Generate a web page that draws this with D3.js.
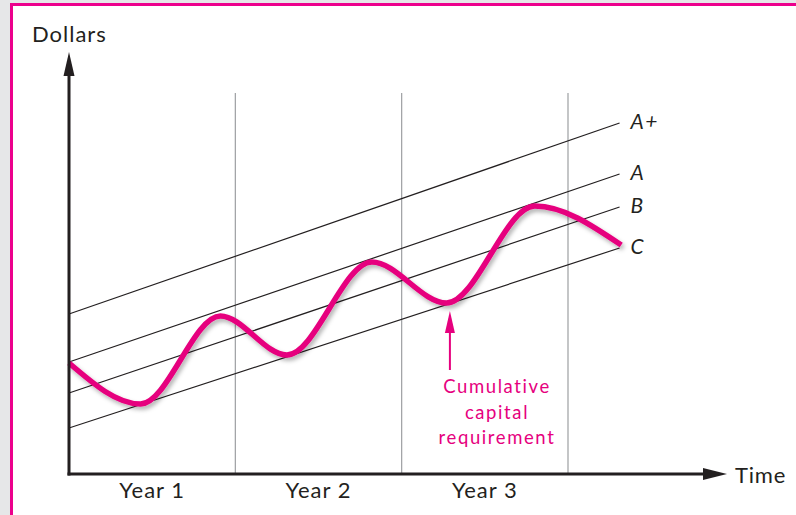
<!DOCTYPE html>
<html>
<head>
<meta charset="utf-8">
<script src="https://cdn.jsdelivr.net/npm/d3@7"></script>
<style>
  html, body { margin: 0; padding: 0; background: #e6e7e8; }
  svg { display: block; }
  text { font-family: Lato, "Noto Sans", sans-serif; fill: #231f20; }
</style>
</head>
<body>
<svg id="chart" width="796" height="515"></svg>
<script>
// ---- data ----
const yearLabels = ["Year 1", "Year 2", "Year 3"];
const yearDividers = [1, 2, 3];
const lineNames = ["A+", "A", "B", "C"];
const lineStart = [40, 28, 20.25, 11.5];   // value at time 0
const lineEnd = [87.75, 75, 66.75, 56.5];  // value at time 3.31
const lineEndTime = 3.31;
const curveTimes = [0, 0.43, 0.91, 1.31, 1.82, 2.27, 2.80, 3.32];
const curveValues = [27.75, 17.5, 39.5, 29.75, 53, 42.75, 67, 57.25];
const annotationTime = 2.29;
const annotationLines = ["Cumulative", "capital", "requirement"];

// ---- layout ----
const svg = d3.select("#chart");
const W = 796, H = 515;
const x = d3.scaleLinear().domain([0, 3]).range([69, 568]);
const y = d3.scaleLinear().domain([0, 100]).range([474, 74]);
const magenta = "#e6007e";

// frame
svg.append("rect").attr("x", 0).attr("y", 0).attr("width", W).attr("height", H).attr("fill", "#e6e7e8");
svg.append("rect").attr("x", 10).attr("y", 3).attr("width", W + 20).attr("height", H + 20)
  .attr("fill", "#ffffff").attr("stroke", "none");
svg.append("path").attr("d", `M11.5,${H + 10} V4.5 H${W + 10}`)
  .attr("fill", "none").attr("stroke", "#ec008c").attr("stroke-width", 3);

const defs = svg.append("defs");
const f = defs.append("filter").attr("id", "shadow").attr("x", "-10%").attr("y", "-10%").attr("width", "120%").attr("height", "130%");
f.append("feDropShadow").attr("dx", 2).attr("dy", 3).attr("stdDeviation", 2.2)
  .attr("flood-color", "#000").attr("flood-opacity", 0.3);

// vertical year dividers
svg.append("g").selectAll("line").data(yearDividers).join("line")
  .attr("x1", d => x(d)).attr("x2", d => x(d))
  .attr("y1", 93).attr("y2", y(0))
  .attr("stroke", "#9d9fa2").attr("stroke-width", 1.2);

// parallel lines
svg.append("g").selectAll("line").data(lineNames).join("line")
  .attr("x1", x(0)).attr("y1", (d, i) => y(lineStart[i]))
  .attr("x2", x(lineEndTime)).attr("y2", (d, i) => y(lineEnd[i]))
  .attr("stroke", "#231f20").attr("stroke-width", 1.2);

svg.append("g").selectAll("text").data(lineNames).join("text")
  .attr("x", x(lineEndTime) + 11)
  .attr("y", (d, i) => y(lineEnd[i]) + 6)
  .attr("font-size", 21).attr("font-style", "italic")
  .attr("letter-spacing", 1.5)
  .text(d => d);

// cumulative capital curve
const line = d3.line().x(d => x(d[0])).y(d => y(d[1])).curve(d3.curveMonotoneX);
svg.append("path")
  .attr("d", line(curveTimes.map((t, i) => [t, curveValues[i]])))
  .attr("fill", "none").attr("stroke", magenta).attr("stroke-width", 5.5)
  .attr("stroke-linecap", "butt")
  .attr("filter", "url(#shadow)");

// axes
const axisColor = "#231f20";
svg.append("line").attr("x1", x(0)).attr("x2", x(0)).attr("y1", y(0) + 1.5).attr("y2", 72)
  .attr("stroke", axisColor).attr("stroke-width", 3);
svg.append("path").attr("d", `M${x(0)},52 L${x(0) + 5.5},76 L${x(0) - 5.5},76 Z`).attr("fill", axisColor);
svg.append("line").attr("x1", x(0) - 1.5).attr("x2", 708).attr("y1", y(0)).attr("y2", y(0))
  .attr("stroke", axisColor).attr("stroke-width", 3);
svg.append("path").attr("d", `M727,${y(0)} L703,${y(0) - 6} L703,${y(0) + 6} Z`).attr("fill", axisColor);

svg.append("text").attr("x", 32).attr("y", 42).attr("font-size", 22).attr("letter-spacing", 1).text("Dollars");
svg.append("text").attr("x", 735).attr("y", 483).attr("font-size", 22).attr("letter-spacing", 0.8).text("Time");

// year labels
svg.append("g").selectAll("text").data(yearLabels).join("text")
  .attr("x", (d, i) => (x(i) + x(yearDividers[i])) / 2)
  .attr("y", 498).attr("text-anchor", "middle").attr("font-size", 22)
  .attr("letter-spacing", 1)
  .text(d => d);

// annotation
const ax = x(annotationTime);
svg.append("line").attr("x1", ax).attr("x2", ax).attr("y1", 370).attr("y2", 328)
  .attr("stroke", magenta).attr("stroke-width", 2);
svg.append("path").attr("d", `M${ax},311 L${ax + 5},333 L${ax - 5},333 Z`).attr("fill", magenta);
svg.append("g").selectAll("text").data(annotationLines).join("text")
  .attr("x", 497).attr("y", (d, i) => 393 + i * 25.5)
  .attr("text-anchor", "middle").attr("font-size", 18.5)
  .attr("letter-spacing", 1.6)
  .style("fill", magenta)
  .text(d => d);
</script>
</body>
</html>
